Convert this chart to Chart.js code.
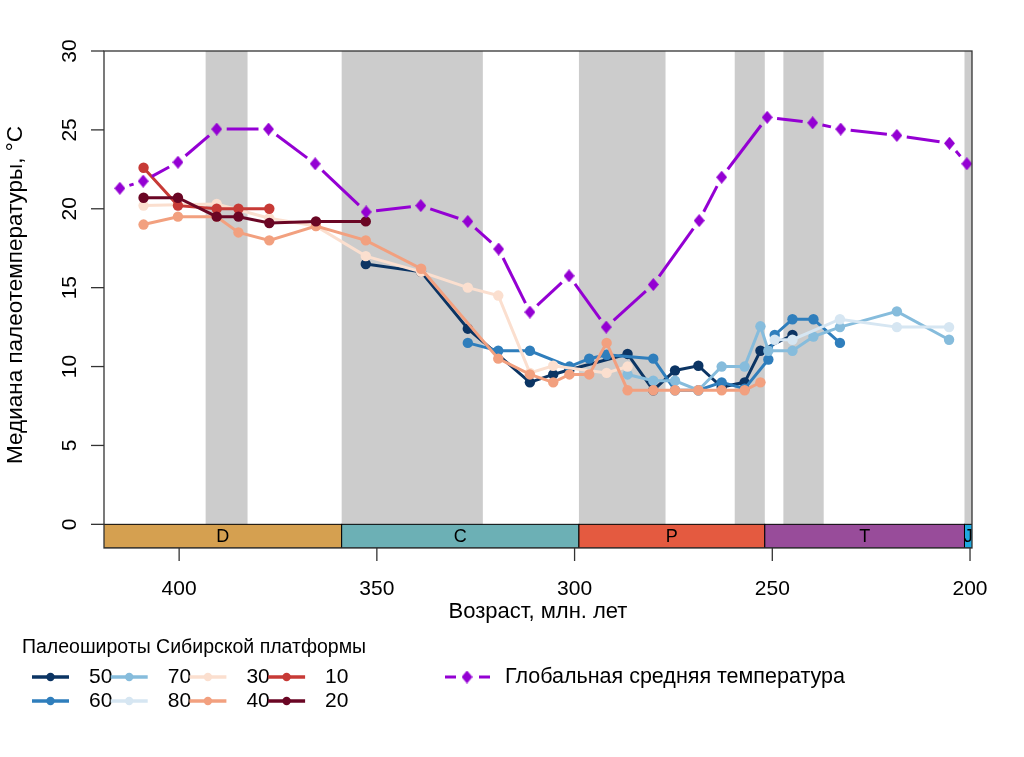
<!DOCTYPE html>
<html><head><meta charset="utf-8">
<script src="https://cdn.jsdelivr.net/npm/chart.js@4"></script>
<style>html,body{margin:0;padding:0;background:#fff;}</style>
</head><body>
<canvas id="c" width="1024" height="757"></canvas>
<script>
// ---------------- DATA ----------------
const xTicks = [400, 350, 300, 250, 200];
const yTicks = [0, 5, 10, 15, 20, 25, 30];

const globalAges  = [415.0, 409.1, 400.3, 390.5, 377.4, 365.6, 352.7, 338.9, 327.0, 319.2, 311.3, 301.4, 292.0, 280.1, 268.5, 262.8, 251.3, 239.8, 232.7, 218.5, 205.2, 200.8];
const globalTemps = [21.3, 21.75, 22.95, 25.05, 25.05, 22.85, 19.8, 20.2, 19.2, 17.45, 13.45, 15.75, 12.5, 15.2, 19.25, 22.0, 25.8, 25.45, 25.05, 24.65, 24.15, 22.85];

const lat10Ages  = [409.0, 400.3, 390.5, 385.0, 377.2];
const lat10Temps = [22.6, 20.2, 20.0, 20.0, 20.0];

const lat20Ages  = [409.0, 400.3, 390.5, 385.0, 377.2, 365.4, 352.8];
const lat20Temps = [20.7, 20.7, 19.5, 19.5, 19.1, 19.2, 19.2];

const lat30Ages  = [409.0, 400.3, 390.5, 377.2, 365.4, 352.8, 338.8, 327.0, 319.3, 311.3, 305.4, 291.9, 286.6];
const lat30Temps = [20.2, 20.25, 20.3, 19.4, 18.9, 17.0, 16.0, 15.0, 14.5, 9.6, 10.05, 9.6, 10.0];

const lat40Ages  = [409.0, 400.3, 390.5, 385.0, 377.2, 365.4, 352.8, 338.8, 319.3, 311.3, 305.4, 301.3, 296.3, 291.9, 286.6, 280.1, 274.6, 268.7, 262.8, 257.0, 253.0];
const lat40Temps = [19.0, 19.5, 19.5, 18.5, 18.0, 18.9, 18.0, 16.2, 10.5, 9.5, 9.0, 9.5, 9.5, 11.5, 8.5, 8.5, 8.5, 8.5, 8.5, 8.5, 9.0];

const lat50Ages  = [352.8, 338.8, 327.0, 311.3, 305.4, 301.3, 286.6, 280.1, 274.6, 268.7, 262.8, 257.0, 253.0, 244.9];
const lat50Temps = [16.5, 16.0, 12.4, 9.0, 9.5, 9.8, 10.8, 8.5, 9.75, 10.05, 8.7, 9.0, 11.0, 12.0];

const lat60Ages  = [327.0, 319.3, 311.3, 301.3, 296.3, 291.9, 280.1, 274.6, 268.7, 262.8, 257.0, 251.0, 249.4, 244.9, 239.6, 232.9];
const lat60Temps = [11.5, 11.0, 11.0, 10.0, 10.5, 10.75, 10.5, 8.5, 8.5, 9.0, 8.6, 10.45, 12.0, 13.0, 13.0, 11.5];

const lat70Ages  = [286.6, 280.1, 274.6, 268.7, 262.8, 257.0, 253.0, 251.0, 244.9, 239.6, 232.9, 218.5, 205.3];
const lat70Temps = [9.5, 9.1, 9.1, 8.5, 10.0, 10.0, 12.55, 11.0, 11.0, 11.9, 12.5, 13.5, 11.7];

const lat80Ages  = [249.4, 244.9, 232.9, 218.5, 205.3];
const lat80Temps = [11.7, 11.7, 13.0, 12.5, 12.5];

const periodNames  = ['D', 'C', 'P', 'T', 'J'];
const periodStart  = [419.2, 358.9, 298.9, 251.9, 201.4];
const periodEnd    = [358.9, 298.9, 251.9, 201.4, 145.0];
const periodColors = ['#D5A050', '#6CB0B5', '#E45A40', '#984C9A', '#1EA8E0'];

const bandStart = [393.3, 358.9, 298.9, 259.5, 247.2, 201.4];
const bandEnd   = [382.7, 323.2, 277.0, 251.9, 237.0, 190.0];

const latLabels = ['50', '60', '70', '80', '30', '40', '10', '20'];
const latColors = ['#0B3463', '#2F7EBC', '#86BCDC', '#D6E6F2', '#FBDFCF', '#F2A07F', '#C73A36', '#6A0624'];
const globalColor = '#9400D3';
const globalLabel = 'Глобальная средняя температура';
const legendTitle = 'Палеошироты Сибирской платформы';
const xTitle = 'Возраст, млн. лет';
const yTitle = 'Медиана палеотемпературы, °C';

// ---------------- CHART ----------------
const FONT = '"Liberation Sans", Arial, Helvetica, sans-serif';
function pts(a, t) { return a.map((v, i) => ({ x: v, y: t[i] })); }
function diamond(w, h, color) {
  const c = document.createElement('canvas'); c.width = w; c.height = h;
  const g = c.getContext('2d'); g.fillStyle = color;
  g.beginPath(); g.moveTo(w / 2, 0); g.lineTo(w, h / 2); g.lineTo(w / 2, h); g.lineTo(0, h / 2); g.closePath(); g.fill();
  return c;
}
const dia = diamond(11, 13, globalColor);

const latSeries = {
  '50': [lat50Ages, lat50Temps], '60': [lat60Ages, lat60Temps], '70': [lat70Ages, lat70Temps], '80': [lat80Ages, lat80Temps],
  '30': [lat30Ages, lat30Temps], '40': [lat40Ages, lat40Temps], '10': [lat10Ages, lat10Temps], '20': [lat20Ages, lat20Temps]
};
const drawOrder = { '20': 1, '10': 2, '40': 3, '30': 4, '80': 5, '70': 6, '60': 7, '50': 8 };

// each segment of the global line: a gap next to each point, one dash in between (R type="b" look)
function segDash(c) {
  const L = Math.hypot(c.p1.x - c.p0.x, c.p1.y - c.p0.y);
  const g = 10;
  return [0, g, Math.max(L - 2 * g, 1.5), 4000];
}

const datasets = [{
  label: globalLabel, data: pts(globalAges, globalTemps), order: 0,
  borderColor: globalColor, backgroundColor: globalColor, borderWidth: 3,
  segment: { borderDash: segDash, borderDashOffset: c => c.p0DataIndex * 1e-6 },
  pointStyle: dia, pointRadius: 6, tension: 0
}];
latLabels.forEach((l, i) => {
  datasets.push({
    label: l, data: pts(latSeries[l][0], latSeries[l][1]), order: drawOrder[l],
    borderColor: latColors[i], backgroundColor: latColors[i], borderWidth: 3,
    pointStyle: 'circle', pointRadius: 5.2, pointBorderWidth: 0, tension: 0
  });
});

const rPlugin = {
  id: 'rstyle',
  beforeDatasetsDraw(chart) {
    const { ctx, chartArea: a, scales: { x, y } } = chart;
    ctx.save();
    ctx.beginPath(); ctx.rect(a.left, a.top, a.right - a.left, a.bottom - a.top); ctx.clip();
    const y0 = y.getPixelForValue(0), yb = y.getPixelForValue(-1.5);
    ctx.fillStyle = '#CCCCCC';
    bandStart.forEach((s, i) => {
      const x1 = x.getPixelForValue(s), x2 = x.getPixelForValue(bandEnd[i]);
      ctx.fillRect(x1, a.top, x2 - x1, y0 - a.top);
    });
    periodNames.forEach((n, i) => {
      const x1 = x.getPixelForValue(periodStart[i]), x2 = x.getPixelForValue(periodEnd[i]);
      ctx.fillStyle = periodColors[i];
      ctx.fillRect(x1, y0, x2 - x1, yb - y0);
      ctx.strokeStyle = '#000'; ctx.lineWidth = 1;
      ctx.strokeRect(x1, y0, x2 - x1, yb - y0);
    });
    ctx.fillStyle = '#000'; ctx.font = '18px ' + FONT; ctx.textAlign = 'center'; ctx.textBaseline = 'middle';
    periodNames.forEach((n, i) => {
      const x1 = Math.max(x.getPixelForValue(periodStart[i]), a.left);
      const x2 = Math.min(x.getPixelForValue(periodEnd[i]), a.right);
      ctx.fillText(n, (x1 + x2) / 2, (y0 + yb) / 2 + 1);
    });
    ctx.restore();
  },
  afterDraw(chart) {
    const { ctx, chartArea: a, scales: { x, y } } = chart;
    ctx.save();
    ctx.strokeStyle = '#333'; ctx.lineWidth = 1.3;
    ctx.strokeRect(a.left, a.top, a.right - a.left, a.bottom - a.top);
    ctx.fillStyle = '#000';
    ctx.font = '21px ' + FONT;
    // x axis
    ctx.textAlign = 'center'; ctx.textBaseline = 'middle';
    xTicks.forEach(v => {
      const px = x.getPixelForValue(v);
      ctx.beginPath(); ctx.moveTo(px, a.bottom); ctx.lineTo(px, a.bottom + 13); ctx.stroke();
      ctx.fillText(String(v), px, 589);
    });
    ctx.font = '22px ' + FONT;
    ctx.fillText(xTitle, (a.left + a.right) / 2, 612);
    ctx.font = '21px ' + FONT;
    // y axis
    yTicks.forEach(v => {
      const py = y.getPixelForValue(v);
      ctx.beginPath(); ctx.moveTo(a.left, py); ctx.lineTo(a.left - 13, py); ctx.stroke();
      ctx.save(); ctx.translate(70, py); ctx.rotate(-Math.PI / 2); ctx.fillText(String(v), 0, 0); ctx.restore();
    });
    ctx.font = '22.5px ' + FONT;
    ctx.save(); ctx.translate(16, 295); ctx.rotate(-Math.PI / 2); ctx.fillText(yTitle, 0, 0); ctx.restore();
    // legend
    ctx.font = '19.5px ' + FONT; ctx.textAlign = 'left';
    ctx.fillText(legendTitle, 22, 648);
    ctx.font = '21px ' + FONT;
    const rows = [677, 701];
    const cols = [['50', '60'], ['70', '80'], ['30', '40'], ['10', '20']];
    cols.forEach((pair, ci) => {
      const x0 = 32 + ci * 78.7;
      pair.forEach((l, ri) => {
        const col = latColors[latLabels.indexOf(l)];
        const ry = rows[ri];
        ctx.strokeStyle = col; ctx.lineWidth = 3.5;
        ctx.beginPath(); ctx.moveTo(x0, ry); ctx.lineTo(x0 + 37, ry); ctx.stroke();
        ctx.fillStyle = col; ctx.beginPath(); ctx.arc(x0 + 18.5, ry, 4.2, 0, Math.PI * 2); ctx.fill();
        ctx.fillStyle = '#000'; ctx.fillText(l, x0 + 57, ry);
      });
    });
    ctx.strokeStyle = globalColor; ctx.lineWidth = 3;
    ctx.beginPath(); ctx.moveTo(445, 677); ctx.lineTo(456, 677); ctx.moveTo(479, 677); ctx.lineTo(490, 677); ctx.stroke();
    ctx.drawImage(dia, 467 - dia.width / 2, 677 - dia.height / 2);
    ctx.font = '21.5px ' + FONT;
    ctx.fillStyle = '#000'; ctx.fillText(globalLabel, 505, 677);
    ctx.restore();
  }
};

new Chart(document.getElementById('c'), {
  type: 'line',
  data: { datasets },
  options: {
    responsive: false, animation: false, devicePixelRatio: 1,
    layout: { padding: { left: 104, right: 52, top: 51, bottom: 209 } },
    scales: {
      x: { type: 'linear', reverse: true, min: 199.5, max: 419, display: false },
      y: { type: 'linear', min: -1.5, max: 30, display: false }
    },
    plugins: { legend: { display: false }, tooltip: { enabled: false } }
  },
  plugins: [rPlugin]
});
</script>
</body></html>
